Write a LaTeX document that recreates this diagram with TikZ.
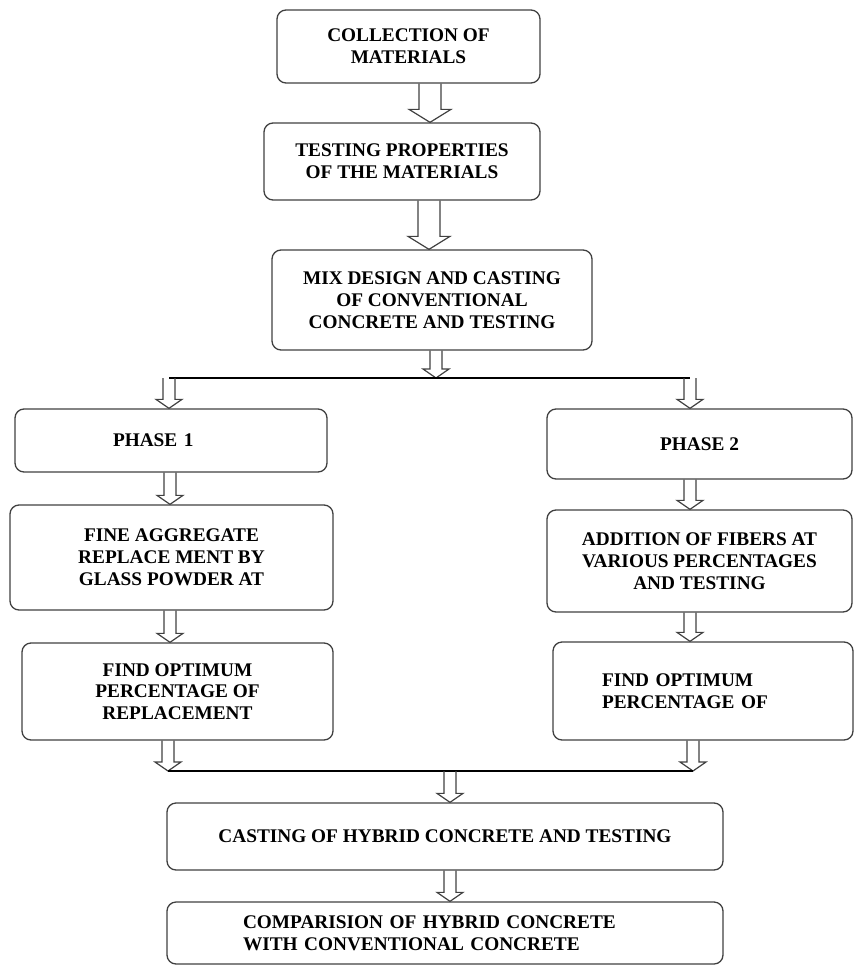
\documentclass[tikz,border=0pt]{standalone}
\usepackage{fontspec}
\setmainfont{Liberation Serif}
\usetikzlibrary{calc}

\tikzset{
  box/.style={draw=black!75, line width=1.3pt, rounded corners=9pt, align=center,
    inner sep=2pt, font=\bfseries\fontsize{19.3}{21.8}\selectfont},
  hollow/.style n args={3}{draw=black!75, line width=1.2pt, to path={
      let \p1=(\tikztostart), \p2=(\tikztotarget) in
      (\x1-#1,\y1) -- (\x1-#1,\y2+#3) -- (\x1-#2,\y2+#3) -- (\x1,\y2)
      -- (\x1+#2,\y2+#3) -- (\x1+#1,\y2+#3) -- (\x1+#1,\y1)}},
  bigarrow/.style={hollow={11pt}{21pt}{13pt}},
  smallarrow/.style={hollow={6pt}{13pt}{9pt}}
}

\begin{document}
\begin{tikzpicture}[x=1pt, y=-1pt]
    \useasboundingbox (0,0) rectangle (854,966);

    \coordinate (splitL) at (169,378);
    \coordinate (splitR) at (690,378);
    \coordinate (mergeL) at (168,771);
    \coordinate (mergeR) at (693,771);

    \begin{scope}[every node/.style={box}]
      \node[minimum width=263pt, minimum height=73pt] (collect) at (408.5,46.5) {COLLECTION OF\\MATERIALS};
      \node[minimum width=276pt, minimum height=77pt] (test) at (402,161.5) {TESTING PROPERTIES\\OF THE MATERIALS};
      \node[minimum width=320pt, minimum height=100pt] (mix) at (432,300) {MIX DESIGN AND CASTING\\OF CONVENTIONAL\\CONCRETE AND TESTING};

      \node[minimum width=312pt, minimum height=63pt, text width=116pt, align=left] (phaseA) at (171,440.5) {PHASE 1};
      \node[minimum width=323pt, minimum height=105pt] (glass) at (171.5,557.5) {FINE AGGREGATE\\REPLACE MENT BY\\GLASS POWDER AT};
      \node[minimum width=311pt, minimum height=97pt] (optA) at (177.5,691.5) {FIND OPTIMUM\\PERCENTAGE OF\\REPLACEMENT};

      \node[minimum width=305pt, minimum height=70pt] (phaseB) at (699.5,444) {PHASE 2};
      \node[minimum width=305pt, minimum height=102pt] (fiber) at (699.5,561) {ADDITION OF FIBERS AT\\VARIOUS PERCENTAGES\\AND TESTING};
      \node[minimum width=300pt, minimum height=98pt, text width=202pt, align=left] (optB) at (703,691) {FIND OPTIMUM\\PERCENTAGE OF};

      \node[minimum width=556pt, minimum height=67pt] (hybrid) at (445,836.5) {CASTING OF HYBRID CONCRETE AND TESTING};
      \node[minimum width=556pt, minimum height=62pt, text width=404pt, align=left] (compare) at (445,933) {COMPARISION OF HYBRID CONCRETE\\WITH CONVENTIONAL CONCRETE};
    \end{scope}

    \draw[bigarrow] ([xshift=21.5pt]collect.south) to (test.north);
    \draw[bigarrow] ([xshift=27pt]test.south) to (mix.north);
    \draw[smallarrow] ([xshift=4pt]mix.south) to (splitL);

    \draw[line width=1.2pt] (splitL) -- (splitR);
    \draw[smallarrow] (splitL) to (phaseA.north);
    \draw[smallarrow] (splitR) to (phaseB.north);

    \draw[smallarrow] ([xshift=-1pt]phaseA.south) to (glass.north);
    \draw[smallarrow] ([xshift=-1.5pt]glass.south) to (optA.north);
    \draw[smallarrow] (mergeL |- optA.south) to (mergeL);

    \draw[smallarrow] ([xshift=-9.5pt]phaseB.south) to (fiber.north);
    \draw[smallarrow] ([xshift=-9.5pt]fiber.south) to (optB.north);
    \draw[smallarrow] (mergeR |- optB.south) to (mergeR);

    \draw[line width=1.2pt] (mergeL) -- (mergeR);
    \draw[smallarrow] ([xshift=5pt]hybrid.north |- mergeL) to (hybrid.north);
    \draw[smallarrow] ([xshift=5pt]hybrid.south) to (compare.north);
\end{tikzpicture}
\end{document}
